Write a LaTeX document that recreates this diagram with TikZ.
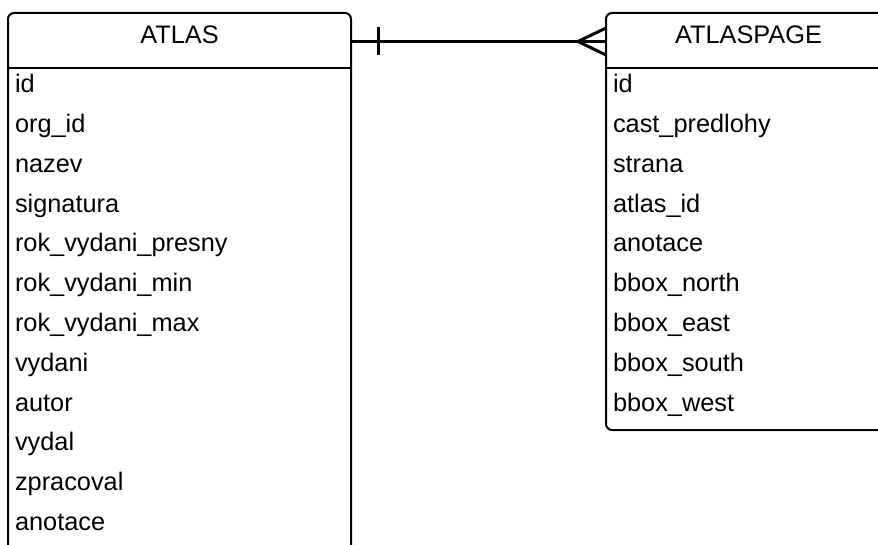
\documentclass[tikz,border=0pt]{standalone}
\usepackage{fontspec}
\setmainfont{Liberation Sans}

\tikzset{every picture/.style={line width=1.5pt}}
\tikzset{
  entitybox/.style={draw, rounded corners=4.5pt},
  relline/.style={line width=2.25pt},
  titletext/.style={anchor=base, inner sep=0pt, font=\fontsize{19}{23}\selectfont},
  fieldtext/.style={anchor=base west, inner sep=0pt, font=\fontsize{19}{23}\selectfont}
}

\begin{document}
\begin{tikzpicture}[x=0.75pt,y=0.75pt,yscale=-1,xscale=1]
	\useasboundingbox (0,0) rectangle (878,545);
	\clip (0,0) rectangle (878,545);

	%Shape: Entity ATLAS
	\draw [entitybox] (8,13) rectangle (351,570) ;
	\draw    (8,68.5) -- (351,68.5) ;
	%Shape: Entity ATLASPAGE
	\draw [entitybox] (606,13) rectangle (891,430) ;
	\draw    (606,68.5) -- (891,68.5) ;

	% Text Node
	\node [titletext] (atlas) at (179.5,44) {ATLAS};
	% Text Node
	\node [titletext] (atlaspage) at (748.5,44) {ATLASPAGE};

	% Text Node
	\node [fieldtext] (atlasId) at (14,93) {id};
	\node [fieldtext] (atlasOrg) at (14,132.75) {org\_id};
	\node [fieldtext] (atlasNazev) at (14,172.5) {nazev};
	\node [fieldtext] (atlasSign) at (14,212.25) {signatura};
	\node [fieldtext] (atlasRokPresny) at (14,252) {rok\_vydani\_presny};
	\node [fieldtext] (atlasRokMin) at (14,291.75) {rok\_vydani\_min};
	\node [fieldtext] (atlasRokMax) at (14,331.5) {rok\_vydani\_max};
	\node [fieldtext] (atlasVydani) at (14,371.25) {vydani};
	\node [fieldtext] (atlasAutor) at (14,411) {autor};
	\node [fieldtext] (atlasVydal) at (14,450.75) {vydal};
	\node [fieldtext] (atlasZprac) at (14,490.5) {zpracoval};
	\node [fieldtext] (atlasAnot) at (14,530.25) {anotace};

	% Text Node
	\node [fieldtext] (pageId) at (612,93) {id};
	\node [fieldtext] (pageCast) at (612,132.75) {cast\_predlohy};
	\node [fieldtext] (pageStrana) at (612,172.5) {strana};
	\node [fieldtext] (pageAtlasId) at (612,212.25) {atlas\_id};
	\node [fieldtext] (pageAnot) at (612,252) {anotace};
	\node [fieldtext] (pageNorth) at (612,291.75) {bbox\_north};
	\node [fieldtext] (pageEast) at (612,331.5) {bbox\_east};
	\node [fieldtext] (pageSouth) at (612,371.25) {bbox\_south};
	\node [fieldtext] (pageWest) at (612,411) {bbox\_west};

	%Straight Lines: relation ATLAS - ATLASPAGE
	\coordinate (relAtlas) at (351,41.5);
	\coordinate (relPage) at (606,41.5);
	\coordinate (relCrow) at (578,41.5);
	\draw [relline]   (relAtlas) -- (relPage) ;
	\draw [relline]   ([xshift=20.25pt]relAtlas |- 0,27) -- ([xshift=20.25pt]relAtlas |- 0,55) ;
	\draw [relline]   (relPage |- 0,28) -- (relCrow) -- (relPage |- 0,55) ;

\end{tikzpicture}
\end{document}
